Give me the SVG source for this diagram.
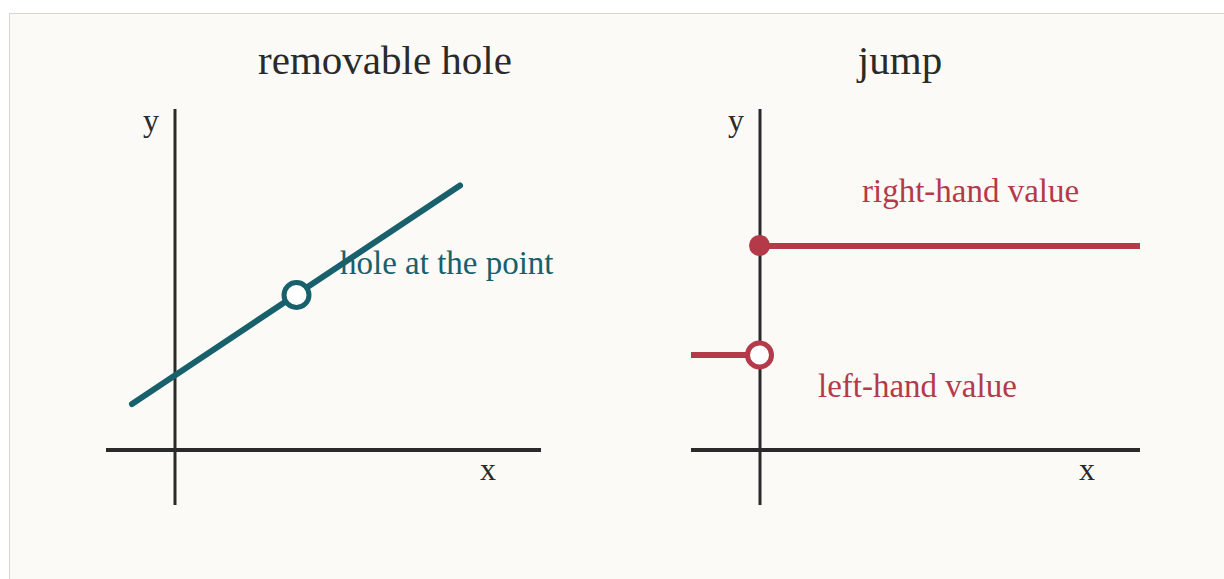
<svg xmlns="http://www.w3.org/2000/svg" width="1224" height="579" viewBox="0 0 1224 579">
<style>
.axis{stroke:#2a2a2a;fill:none;stroke-linecap:butt}
.title{font-family:"Liberation Serif","Times New Roman",serif;font-size:41px;fill:#2a2a2a;text-anchor:middle}
.ax{font-family:"Liberation Serif","Times New Roman",serif;font-size:32px;fill:#2a2a2a;text-anchor:middle}
.lbl{font-family:"Liberation Serif","Times New Roman",serif;font-size:33px}
.teal{stroke:#17606c}
.red{stroke:#b43a49}
</style>
<rect x="0" y="0" width="1224" height="579" fill="#ffffff"/>
<rect x="9.5" y="13.5" width="1230" height="580" fill="#fbfaf7" stroke="#d9d5cd" stroke-width="1"/>

<g id="panel-left">
  <text class="title" x="385" y="74">removable hole</text>
  <line class="axis" x1="175" y1="109" x2="175" y2="505" stroke-width="3"/>
  <line class="axis" x1="106" y1="450" x2="541" y2="450" stroke-width="4"/>
  <text class="ax" x="151" y="131">y</text>
  <text class="ax" x="488" y="480">x</text>
</g>

<g id="curve-left">
  <line class="teal" x1="132" y1="404" x2="460" y2="185.5" stroke-width="6" stroke-linecap="round"/>
  <circle id="hole" cx="296.5" cy="295" r="12.5" fill="#ffffff" class="teal" stroke-width="5"/>
  <text class="lbl" x="340" y="274" fill="#17606c">hole at the point</text>
</g>

<g id="panel-right">
  <text class="title" x="900" y="74">jump</text>
  <line class="axis" x1="760" y1="109" x2="760" y2="505" stroke-width="3"/>
  <line class="axis" x1="691" y1="450" x2="1140" y2="450" stroke-width="4"/>
  <text class="ax" x="736" y="131">y</text>
  <text class="ax" x="1087" y="480">x</text>
</g>

<g id="curve-right">
  <line class="red" x1="760" y1="246" x2="1140" y2="246" stroke-width="6"/>
  <circle id="right-value" cx="759.5" cy="245.5" r="10.5" fill="#b43a49"/>
  <line class="red" x1="691" y1="355" x2="748" y2="355" stroke-width="6"/>
  <circle id="left-value" cx="759.5" cy="355" r="12" fill="#ffffff" class="red" stroke-width="5"/>
  <text class="lbl" x="862" y="202" fill="#b43a49">right-hand value</text>
  <text class="lbl" x="818" y="397" fill="#b43a49">left-hand value</text>
</g>
</svg>
